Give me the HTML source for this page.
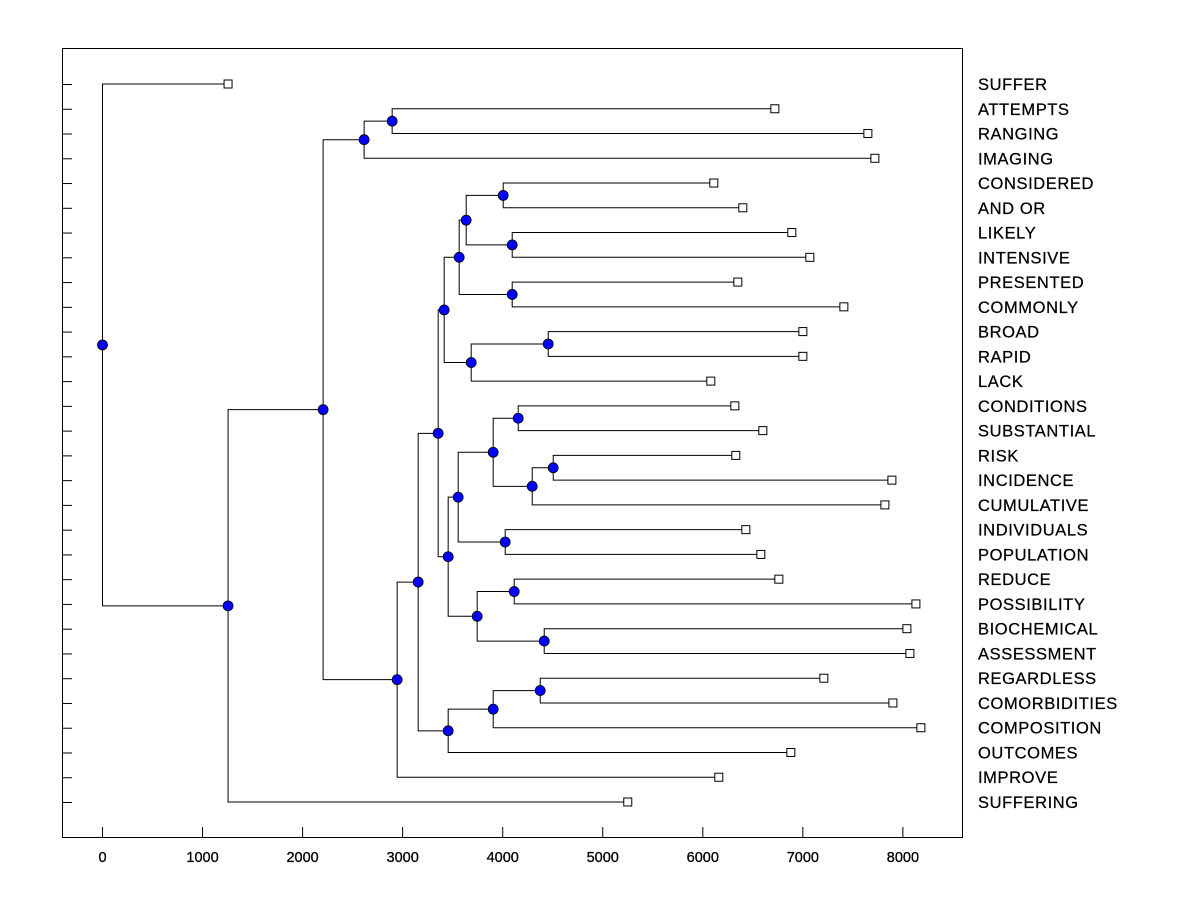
<!DOCTYPE html>
<html><head><meta charset="utf-8"><style>
html,body{margin:0;padding:0;background:#fff;}
svg{display:block;font-family:"Liberation Sans",Arial,sans-serif;}
</style></head><body>
<svg id="chart" width="1200" height="900" viewBox="0 0 1200 900">
<rect x="0" y="0" width="1200" height="900" fill="#fff"/>
<rect x="62.5" y="48.5" width="900" height="789" fill="none" stroke="#000" stroke-width="1"/>
<g id="ticks"></g><g id="links"></g><g id="marks"></g><g id="labels"></g>
</svg>
<script>
const leafLabels = ["SUFFER","ATTEMPTS","RANGING","IMAGING","CONSIDERED","AND OR","LIKELY","INTENSIVE","PRESENTED","COMMONLY","BROAD","RAPID","LACK","CONDITIONS","SUBSTANTIAL","RISK","INCIDENCE","CUMULATIVE","INDIVIDUALS","POPULATION","REDUCE","POSSIBILITY","BIOCHEMICAL","ASSESSMENT","REGARDLESS","COMORBIDITIES","COMPOSITION","OUTCOMES","IMPROVE","SUFFERING"];
const leafHeights = [1255,6720,7650,7720,6110,6400,6890,7070,6350,7410,7000,7000,6080,6320,6600,6330,7890,7820,6430,6580,6760,8130,8040,8070,7210,7900,8180,6880,6160,5250];
const nodeNames   = ["F","P","Q","N","O","L","R","M","J","W","Y","X","U","V","S","Z","AA","T","K","H","AC","AB","I","G","E","D","C","B","ROOT"];
const nodeHeights = [2895,4005,4095,3635,4095,3565,4455,3685,3415,4155,4505,4295,3905,4025,3555,4115,4415,3745,3455,3355,4375,3905,3455,3155,2945,2615,2205,1255,0];
const nodeLeft    = ["L1","L4","L6","P","L8","N","L10","R","L","L13","L15","Y","W","L18","U","L20","L22","Z","S","J","L24","AC","AB","H","G","F","D","C","L0"];
const nodeRight   = ["L2","L5","L7","Q","L9","O","L11","L12","M","L14","L16","L17","X","L19","V","L21","L23","AA","T","K","L25","L26","L27","I","L28","L3","E","L29","B"];
const xTicks = [0,1000,2000,3000,4000,5000,6000,7000,8000];

const X = v => 102.5 + v * 0.10005;
const Y = i => 84 + i * (718 / 29);
const NS = "http://www.w3.org/2000/svg";
function mk(tag, attrs, parent){ const e=document.createElementNS(NS,tag); for(const k in attrs) e.setAttribute(k,attrs[k]); parent.appendChild(e); return e; }
const gT=document.getElementById('ticks'), gL=document.getElementById('links'), gM=document.getElementById('marks'), gLab=document.getElementById('labels');

xTicks.forEach(t=>{
  const l=mk('line',{x1:X(t),x2:X(t),y1:837,y2:827,stroke:'#000'},gT);
  
  
  const tx=mk('text',{x:X(t),y:862,'text-anchor':'middle','font-size':'14.5','stroke':'#000','stroke-width':'0.3'},gT);
  tx.textContent=t;
  
  
});
leafLabels.forEach((lab,i)=>{
  const l=mk('line',{x1:62,x2:72,y1:Y(i)+0.5,y2:Y(i)+0.5,stroke:'#000'},gT);
  
  
  const t=mk('text',{x:978,y:Y(i)+6,'font-size':'16.5','letter-spacing':'0.6','stroke':'#000','stroke-width':'0.25'},gLab);
  t.textContent=lab;
  
  
});

const pos={};
leafHeights.forEach((h,i)=>{ pos['L'+i]={x:X(h),y:Y(i)}; });
nodeNames.forEach((n,k)=>{
  const a=pos[nodeLeft[k]], b=pos[nodeRight[k]];
  pos[n]={x:X(nodeHeights[k]), y:(a.y+b.y)/2};
});
nodeNames.forEach((n,k)=>{
  const p=pos[n];
  [nodeLeft[k],nodeRight[k]].forEach(c=>{
    const q=pos[c];
    const pl=mk('polyline',{points:`${p.x},${p.y} ${p.x},${q.y} ${q.x},${q.y}`,fill:'none',stroke:'#000','stroke-width':1},gL);
    
    
  });
});
leafHeights.forEach((h,i)=>{
  const p=pos['L'+i];
  const r=mk('rect',{x:p.x-4,y:p.y-4,width:8,height:8,fill:'#fff',stroke:'#000'},gM);
  
  
});
nodeNames.forEach(n=>{
  const p=pos[n];
  const c=mk('circle',{cx:p.x,cy:p.y,r:5,fill:'#0000ff',stroke:'#000','stroke-width':0.8},gM);
  
  
});
</script>
</body></html>
